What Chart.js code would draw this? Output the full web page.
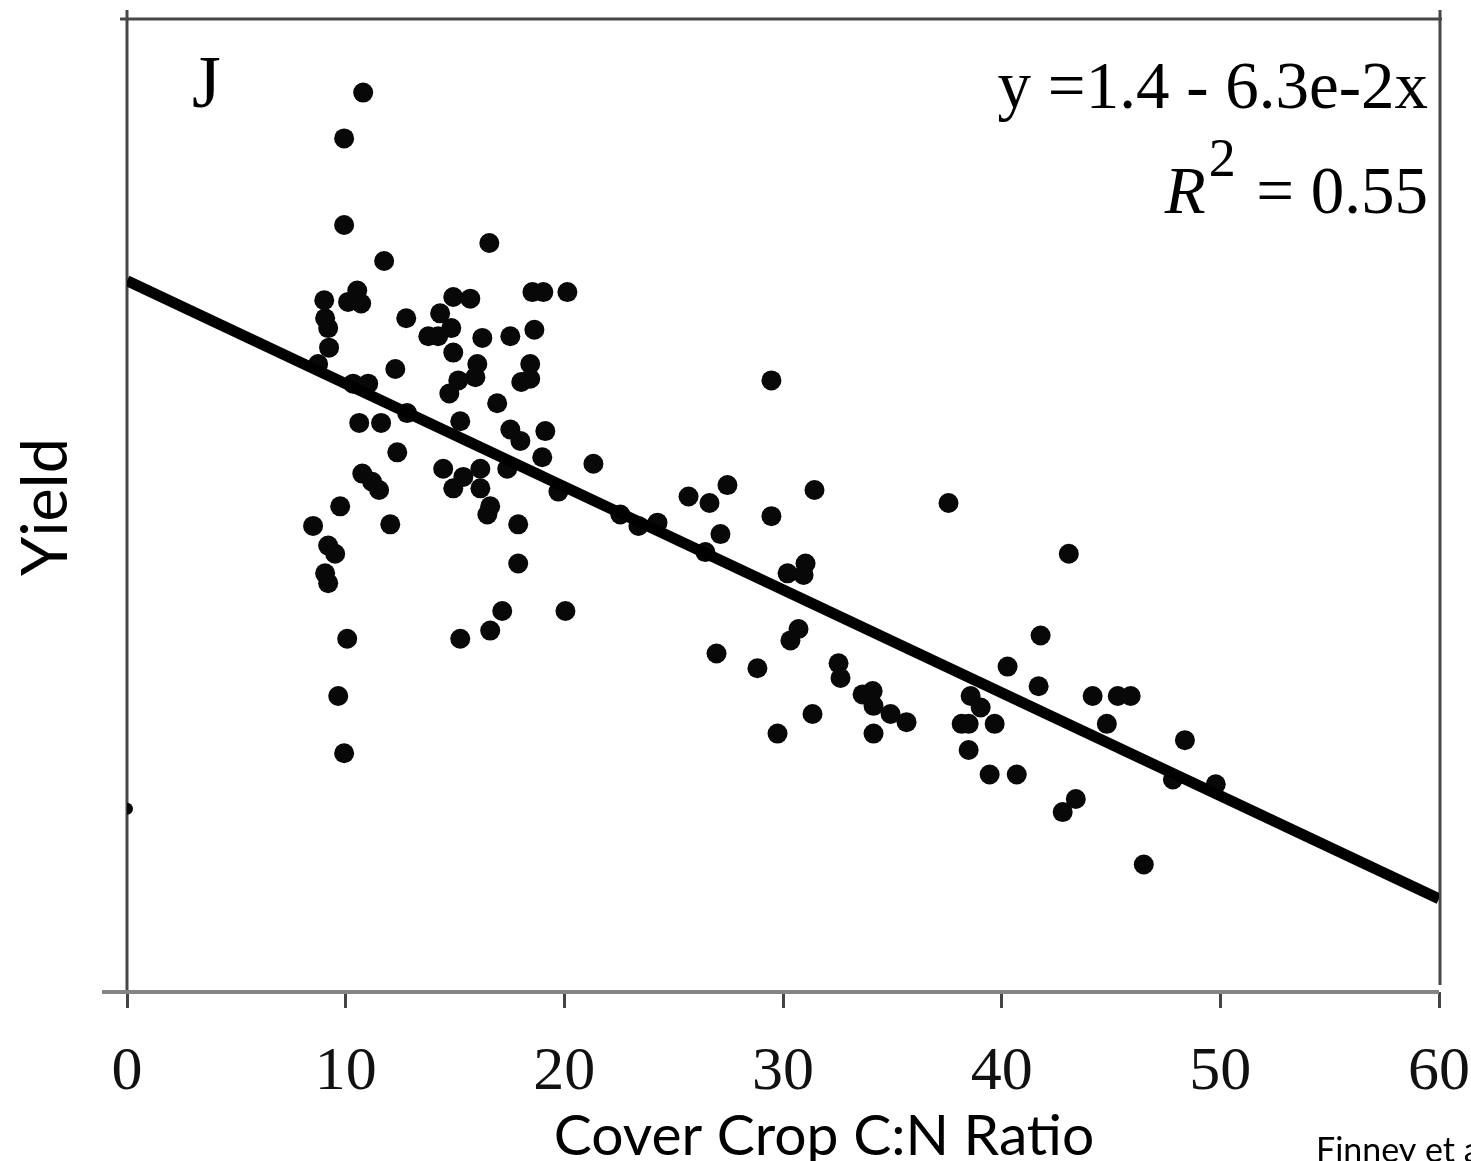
<!DOCTYPE html>
<html>
<head>
<meta charset="utf-8">
<script src="https://cdn.jsdelivr.net/npm/chart.js@4.4.1/dist/chart.umd.min.js"></script>
<style>
  body { margin: 0; background: #fff; }
  #wrap { width: 1471px; height: 1161px; }
</style>
</head>
<body>
<div id="wrap"><canvas id="chart" width="1471" height="1161"></canvas></div>
<script>
// values (C:N ratio vs. relative yield)
const cnRatio = [
  10.80, 9.93, 9.93, 11.76, 9.02, 10.53, 10.11, 10.71, 9.06, 9.20,
  9.24, 8.74, 10.34, 11.03, 12.27, 10.62, 11.62, 12.36, 10.76, 11.21,
  11.53, 9.75, 8.51, 12.04, 9.20, 9.52, 9.06, 9.20, 10.07, 9.66,
  9.93, 12.77, 12.81, 14.92, 15.70, 14.32, 13.78, 14.23, 14.83, 16.25,
  17.53, 18.63, 18.54, 19.04, 20.14, 14.92, 16.02, 15.93, 15.15, 14.74,
  18.44, 18.03, 18.44, 16.93, 15.24, 17.53, 17.99, 19.13, 18.99, 21.33,
  17.39, 14.46, 15.38, 16.16, 14.92, 16.16, 19.73, 16.61, 16.48, 17.89,
  17.89, 17.16, 16.61, 15.24, 20.05, 16.57, 22.56, 23.39, 24.26, 25.68,
  26.64, 27.46, 29.47, 29.47, 31.44, 27.14, 26.45, 30.21, 31.03, 30.94,
  30.71, 30.34, 26.96, 28.83, 32.54, 32.63, 33.64, 34.10, 34.14, 34.92,
  35.65, 31.35, 29.75, 34.14, 37.57, 43.07, 41.78, 40.27, 41.69, 38.58,
  39.04, 38.17, 38.49, 39.68, 38.49, 39.45, 40.69, 42.79, 43.39, 44.16,
  45.31, 45.90, 44.81, 48.38, 47.83, 49.79, 46.50
];
const yieldVals = [
  2.55, 2.27, 1.74, 1.52, 1.28, 1.34, 1.27, 1.26, 1.17, 1.11,
  0.99, 0.89, 0.77, 0.77, 0.86, 0.53, 0.53, 0.35, 0.22, 0.17,
  0.12, 0.02, -0.10, -0.09, -0.22, -0.27, -0.39, -0.45, -0.79, -1.14,
  -1.49, 1.17, 0.59, 1.30, 1.29, 1.20, 1.06, 1.06, 1.11, 1.05,
  1.06, 1.10, 1.33, 1.33, 1.33, 0.96, 0.89, 0.81, 0.79, 0.71,
  0.89, 0.78, 0.80, 0.65, 0.54, 0.49, 0.42, 0.48, 0.32, 0.28,
  0.25, 0.25, 0.20, 0.25, 0.13, 0.13, 0.11, 0.02, -0.03, -0.09,
  -0.33, -0.62, -0.74, -0.79, -0.62, 1.63, -0.03, -0.10, -0.08, 0.08,
  0.04, 0.15, 0.79, -0.04, 0.12, -0.15, -0.26, -0.39, -0.33, -0.40,
  -0.73, -0.80, -0.88, -0.97, -0.94, -1.03, -1.13, -1.11, -1.20, -1.25,
  -1.30, -1.25, -1.37, -1.37, 0.04, -0.27, -0.77, -0.96, -1.08, -1.14,
  -1.21, -1.31, -1.31, -1.31, -1.47, -1.62, -1.62, -1.85, -1.77, -1.14,
  -1.14, -1.14, -1.31, -1.41, -1.65, -1.68, -2.17
];
// half-hidden point sitting on the y axis
const edgeX = [0];
const edgeY = [-1.83];

// fitted line y = 1.4 - 6.3e-2x, end points
const fitX = [0, 60];
const fitY = [1.4, -2.38];

const xTicks = [0, 10, 20, 30, 40, 50, 60];

const serif = '"Liberation Serif", "Times New Roman", serif';
const sans = 'Lato, "Open Sans", sans-serif';

function toPoints(xs, ys) {
  return xs.map((x, i) => ({ x: x, y: ys[i] }));
}

// frame lines and annotation text
const decor = {
  id: 'decor',
  beforeDatasetsDraw(chart) {
    const { ctx, chartArea: a } = chart;
    ctx.save();
    ctx.strokeStyle = '#474747';
    ctx.lineWidth = 3;
    ctx.beginPath();
    ctx.moveTo(a.left - 7, a.top);
    ctx.lineTo(a.right + 3, a.top);
    ctx.moveTo(a.left, a.top - 9);
    ctx.lineTo(a.left, a.bottom);
    ctx.moveTo(a.right + 1, a.top - 9);
    ctx.lineTo(a.right + 1, a.bottom - 7);
    ctx.stroke();
    ctx.strokeStyle = '#848484';
    ctx.lineWidth = 4;
    ctx.beginPath();
    ctx.moveTo(a.left - 25, a.bottom);
    ctx.lineTo(a.right, a.bottom);
    ctx.stroke();
    ctx.restore();
  },
  afterDraw(chart) {
    const ctx = chart.ctx;
    ctx.save();
    ctx.fillStyle = '#000';
    ctx.textBaseline = 'alphabetic';

    ctx.font = '74px ' + serif;
    ctx.textAlign = 'left';
    ctx.fillText('J', 192, 107);

    ctx.font = '67px ' + serif;
    ctx.textAlign = 'right';
    ctx.fillText('y =1.4 - 6.3e-2x', 1428, 108);

    const rest = '  = 0.55';
    ctx.fillText(rest, 1428, 213);
    let xr = 1428 - ctx.measureText(rest).width;
    ctx.font = '54px ' + serif;
    ctx.fillText('2', xr + 13, 176);
    xr -= ctx.measureText('2').width;
    ctx.font = 'italic 67px ' + serif;
    ctx.fillText('R', xr + 10, 213);

    ctx.font = '57px ' + sans;
    ctx.textAlign = 'center';
    ctx.fillText('Cover Crop C:N Ratio', 824, 1155);

    ctx.font = '34px ' + sans;
    ctx.textAlign = 'left';
    ctx.fillText('Finney et al.', 1316, 1162);

    ctx.translate(67, 507);
    ctx.rotate(-Math.PI / 2);
    ctx.font = '63px ' + sans;
    ctx.textAlign = 'center';
    ctx.fillText('Yield', 0, 0);
    ctx.restore();
  }
};

new Chart(document.getElementById('chart'), {
  type: 'scatter',
  data: {
    datasets: [
      {
        type: 'line',
        data: toPoints(fitX, fitY),
        borderColor: '#000',
        borderWidth: 11,
        pointRadius: 0,
        fill: false
      },
      {
        data: toPoints(cnRatio, yieldVals),
        backgroundColor: '#080808',
        borderWidth: 0,
        pointRadius: 10
      },
      {
        data: toPoints(edgeX, edgeY),
        backgroundColor: '#080808',
        borderWidth: 0,
        pointRadius: 6
      }
    ]
  },
  options: {
    responsive: false,
    animation: false,
    layout: { padding: { left: 127, right: 32, top: 19, bottom: 0 } },
    plugins: { legend: { display: false }, tooltip: { enabled: false } },
    scales: {
      x: {
        type: 'linear',
        min: 0,
        max: 60,
        afterBuildTicks: (scale) => { scale.ticks = xTicks.map(v => ({ value: v })); },
        afterFit: (scale) => {
          scale.height = 169;
          scale.paddingLeft = 0;
          scale.paddingRight = 0;
        },
        border: { display: false },
        grid: { drawOnChartArea: false, drawTicks: true, tickLength: 16, tickColor: '#444', lineWidth: 3 },
        ticks: { color: '#111', padding: 28, maxRotation: 0, font: { family: serif, size: 62 } }
      },
      y: {
        display: false,
        min: -2.95,
        max: 3.0
      }
    }
  },
  plugins: [decor]
});
</script>
</body>
</html>
